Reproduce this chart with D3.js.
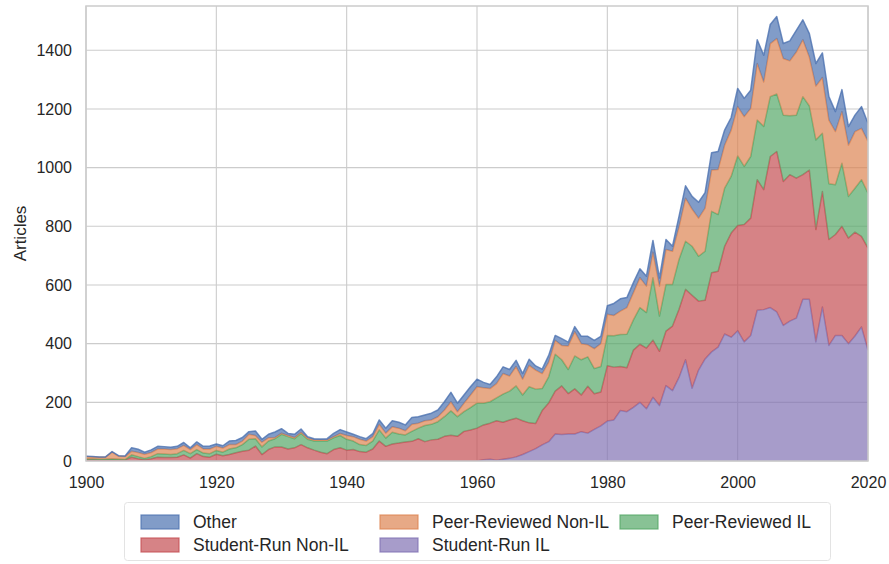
<!DOCTYPE html>
<html>
<head>
<meta charset="utf-8">
<script src="https://cdn.jsdelivr.net/npm/d3@7"></script>
<style>
  body { margin: 0; background: #fff; }
  text { font-family: "Liberation Sans", Arial, sans-serif; fill: #262626; }
</style>
</head>
<body>
<svg id="chart" width="889" height="564"></svg>
<script>
// yearly article counts, 1900..2020
const years = d3.range(1900, 2021);

const studentRunIL = [
  0, 0, 0, 0, 0, 0, 0, 0, 0, 0,
  0, 0, 0, 0, 0, 0, 0, 0, 0, 0,
  0, 0, 0, 0, 0, 0, 0, 0, 0, 0,
  0, 0, 0, 0, 0, 0, 0, 0, 0, 0,
  0, 0, 0, 0, 0, 0, 0, 0, 0, 0,
  0, 0, 0, 0, 0, 0, 0, 0, 0, 0,
  0, 4, 6, 3, 6, 9, 14, 22, 32, 42,
  55, 66, 92, 90, 92, 92, 100, 95, 108, 120,
  136, 140, 172, 168, 183, 200, 178, 217, 189, 257,
  240, 285, 345, 248, 310, 348, 372, 388, 433, 422,
  444, 406, 428, 514, 516, 523, 508, 462, 477, 487,
  551, 551, 406, 525, 394, 428, 428, 400, 426, 457, 377,
];
const studentRunNonIL = [
  6, 6, 5, 5, 6, 5, 4, 13, 8, 4,
  8, 13, 12, 12, 13, 21, 10, 25, 15, 13,
  23, 18, 22, 28, 33, 37, 51, 22, 39, 48,
  48, 41, 45, 56, 45, 37, 30, 25, 39, 45,
  37, 39, 32, 30, 41, 68, 50, 58, 61, 65,
  67, 76, 66, 72, 74, 84, 88, 84, 101, 106,
  112, 119, 123, 134, 126, 131, 132, 115, 98, 86,
  117, 132, 146, 166, 138, 154, 125, 160, 121, 115,
  189, 180, 150, 150, 195, 198, 207, 195, 185, 186,
  220, 232, 240, 317, 235, 200, 270, 259, 299, 355,
  359, 400, 400, 445, 409, 515, 547, 491, 499, 477,
  425, 441, 383, 394, 361, 344, 372, 360, 354, 309, 349,
];
const peerReviewedIL = [
  1, 1, 1, 1, 1, 1, 1, 8, 7, 5,
  7, 12, 12, 10, 12, 15, 15, 14, 12, 12,
  13, 12, 19, 17, 23, 37, 25, 26, 29, 28,
  43, 42, 31, 38, 29, 31, 38, 43, 40, 42,
  37, 29, 24, 23, 27, 38, 28, 40, 31, 24,
  34, 36, 55, 53, 60, 67, 83, 67, 67, 76,
  85, 74, 73, 78, 96, 98, 110, 88, 123, 117,
  75, 89, 126, 89, 82, 112, 120, 100, 86, 87,
  103, 107, 109, 114, 103, 125, 121, 213, 120, 159,
  142, 170, 164, 167, 153, 167, 209, 193, 198, 193,
  237, 198, 210, 203, 215, 204, 196, 226, 201, 215,
  266, 218, 305, 198, 190, 170, 215, 142, 150, 193, 187,
];
const peerReviewedNonIL = [
  8, 7, 7, 7, 23, 10, 10, 12, 14, 14,
  14, 16, 17, 17, 17, 17, 14, 17, 14, 16,
  14, 14, 15, 11, 12, 17, 11, 16, 11, 4,
  4, 4, 4, 4, 4, 4, 4, 4, 4, 7,
  13, 15, 18, 15, 15, 19, 17, 19, 20, 14,
  24, 17, 16, 15, 17, 23, 31, 17, 29, 43,
  56, 53, 45, 49, 70, 52, 66, 54, 73, 65,
  51, 50, 47, 49, 80, 83, 55, 41, 68, 78,
  72, 69, 80, 91, 93, 102, 90, 87, 102, 119,
  113, 111, 147, 127, 130, 147, 141, 154, 147, 158,
  168, 170, 164, 193, 152, 181, 189, 193, 187, 215,
  194, 167, 184, 190, 217, 181, 176, 175, 193, 175, 176,
];
const other = [
  1, 1, 1, 1, 2, 2, 2, 12, 11, 7,
  9, 9, 8, 8, 8, 10, 6, 9, 9, 10,
  8, 8, 12, 14, 12, 9, 15, 10, 12, 19,
  15, 7, 11, 11, 5, 4, 3, 4, 11, 13,
  12, 8, 9, 8, 10, 15, 17, 20, 20, 20,
  23, 22, 20, 23, 23, 28, 32, 29, 28, 28,
  26, 18, 14, 23, 23, 22, 21, 19, 21, 14,
  15, 23, 17, 23, 13, 17, 25, 29, 28, 25,
  29, 41, 42, 34, 34, 30, 34, 40, 28, 34,
  17, 36, 42, 43, 54, 53, 59, 61, 51, 43,
  62, 62, 62, 81, 91, 65, 75, 51, 68, 74,
  68, 80, 77, 84, 80, 68, 75, 63, 56, 74, 62,
];

const yTicks = [0, 200, 400, 600, 800, 1000, 1200, 1400];
const xTicks = [1900, 1920, 1940, 1960, 1980, 2000, 2020];

// stacked bottom -> top
const series = [
  { key: 'Student-Run IL', values: studentRunIL, color: '#8172B3' },
  { key: 'Student-Run Non-IL', values: studentRunNonIL, color: '#C44E52' },
  { key: 'Peer-Reviewed IL', values: peerReviewedIL, color: '#55A868' },
  { key: 'Peer-Reviewed Non-IL', values: peerReviewedNonIL, color: '#DD8452' },
  { key: 'Other', values: other, color: '#4C72B0' },
];
// legend reads column by column like matplotlib
const legendOrder = ['Other', 'Student-Run Non-IL', 'Peer-Reviewed Non-IL', 'Student-Run IL', 'Peer-Reviewed IL'];

const rows = years.map((yr, i) => {
  const r = { year: yr };
  series.forEach((s) => { r[s.key] = s.values[i]; });
  return r;
});

const margin = { left: 86, right: 868, top: 6, bottom: 461 };
const x = d3.scaleLinear().domain([1900, 2020]).range([margin.left, margin.right]);
const y = d3.scaleLinear().domain([0, 1551]).range([margin.bottom, margin.top]);

const svg = d3.select('#chart');
const grid = '#cccccc';

svg.append('defs').append('clipPath').attr('id', 'plot-clip')
  .append('rect')
  .attr('x', margin.left).attr('y', margin.top)
  .attr('width', margin.right - margin.left)
  .attr('height', margin.bottom - margin.top);

// grid
svg.append('g').selectAll('line')
  .data(yTicks)
  .join('line')
  .attr('x1', margin.left).attr('x2', margin.right)
  .attr('y1', (d) => y(d)).attr('y2', (d) => y(d))
  .attr('stroke', grid).attr('stroke-width', 1.1);
svg.append('g').selectAll('line')
  .data(xTicks)
  .join('line')
  .attr('x1', (d) => x(d)).attr('x2', (d) => x(d))
  .attr('y1', margin.top).attr('y2', margin.bottom)
  .attr('stroke', grid).attr('stroke-width', 1.1);

// stacked areas
const stacked = d3.stack().keys(series.map((s) => s.key))(rows);
const area = d3.area()
  .x((d) => x(d.data.year))
  .y0((d) => y(d[0]))
  .y1((d) => y(d[1]));
const topLine = d3.line()
  .x((d) => x(d.data.year))
  .y((d) => y(d[1]));

const layers = svg.append('g').attr('clip-path', 'url(#plot-clip)');
stacked.forEach((layer, i) => {
  const c = series[i].color;
  layers.append('path')
    .attr('d', area(layer))
    .attr('fill', c)
    .attr('fill-opacity', 0.7);
  layers.append('path')
    .attr('d', topLine(layer))
    .attr('fill', 'none')
    .attr('stroke', c)
    .attr('stroke-opacity', 0.8)
    .attr('stroke-width', 1.5)
    .attr('stroke-linejoin', 'round');
});

// frame
svg.append('rect')
  .attr('x', margin.left).attr('y', margin.top)
  .attr('width', margin.right - margin.left)
  .attr('height', margin.bottom - margin.top)
  .attr('fill', 'none')
  .attr('stroke', grid)
  .attr('stroke-width', 1.5);

// axes
const yAxis = d3.axisLeft(y).tickValues(yTicks).tickFormat(d3.format('d')).tickSize(0).tickPadding(14);
svg.append('g')
  .attr('transform', `translate(${margin.left},0)`)
  .call(yAxis)
  .call((g) => g.select('.domain').remove())
  .selectAll('text')
  .attr('font-size', 16)
  .attr('font-family', '"Liberation Sans", Arial, sans-serif')
  .attr('fill', '#262626');

const xAxis = d3.axisBottom(x).tickValues(xTicks).tickFormat(d3.format('d')).tickSize(0).tickPadding(16);
svg.append('g')
  .attr('transform', `translate(0,${margin.bottom})`)
  .call(xAxis)
  .call((g) => g.select('.domain').remove())
  .selectAll('text')
  .attr('font-size', 16)
  .attr('font-family', '"Liberation Sans", Arial, sans-serif')
  .attr('fill', '#262626');

svg.append('text')
  .attr('transform', `translate(26,${(margin.top + margin.bottom) / 2}) rotate(-90)`)
  .attr('text-anchor', 'middle')
  .attr('font-size', 17)
  .text('Articles');

// legend
const lg = svg.append('g');
lg.append('rect')
  .attr('x', 124.5).attr('y', 502.5)
  .attr('width', 706).attr('height', 58)
  .attr('rx', 3)
  .attr('fill', '#fff')
  .attr('stroke', '#e3e3e3');

const colX = [141, 380, 620];
const rowY = [522, 545];
legendOrder.forEach((name, i) => {
  const s = series.find((d) => d.key === name);
  const cx = colX[Math.floor(i / 2)];
  const cy = rowY[i % 2];
  lg.append('rect')
    .attr('x', cx).attr('y', cy - 7)
    .attr('width', 38).attr('height', 14)
    .attr('fill', s.color).attr('fill-opacity', 0.7)
    .attr('stroke', s.color).attr('stroke-opacity', 0.8)
    .attr('stroke-width', 1.2);
  lg.append('text')
    .attr('x', cx + 52).attr('y', cy + 6)
    .attr('font-size', 17.5)
    .text(name);
});
</script>
</body>
</html>
